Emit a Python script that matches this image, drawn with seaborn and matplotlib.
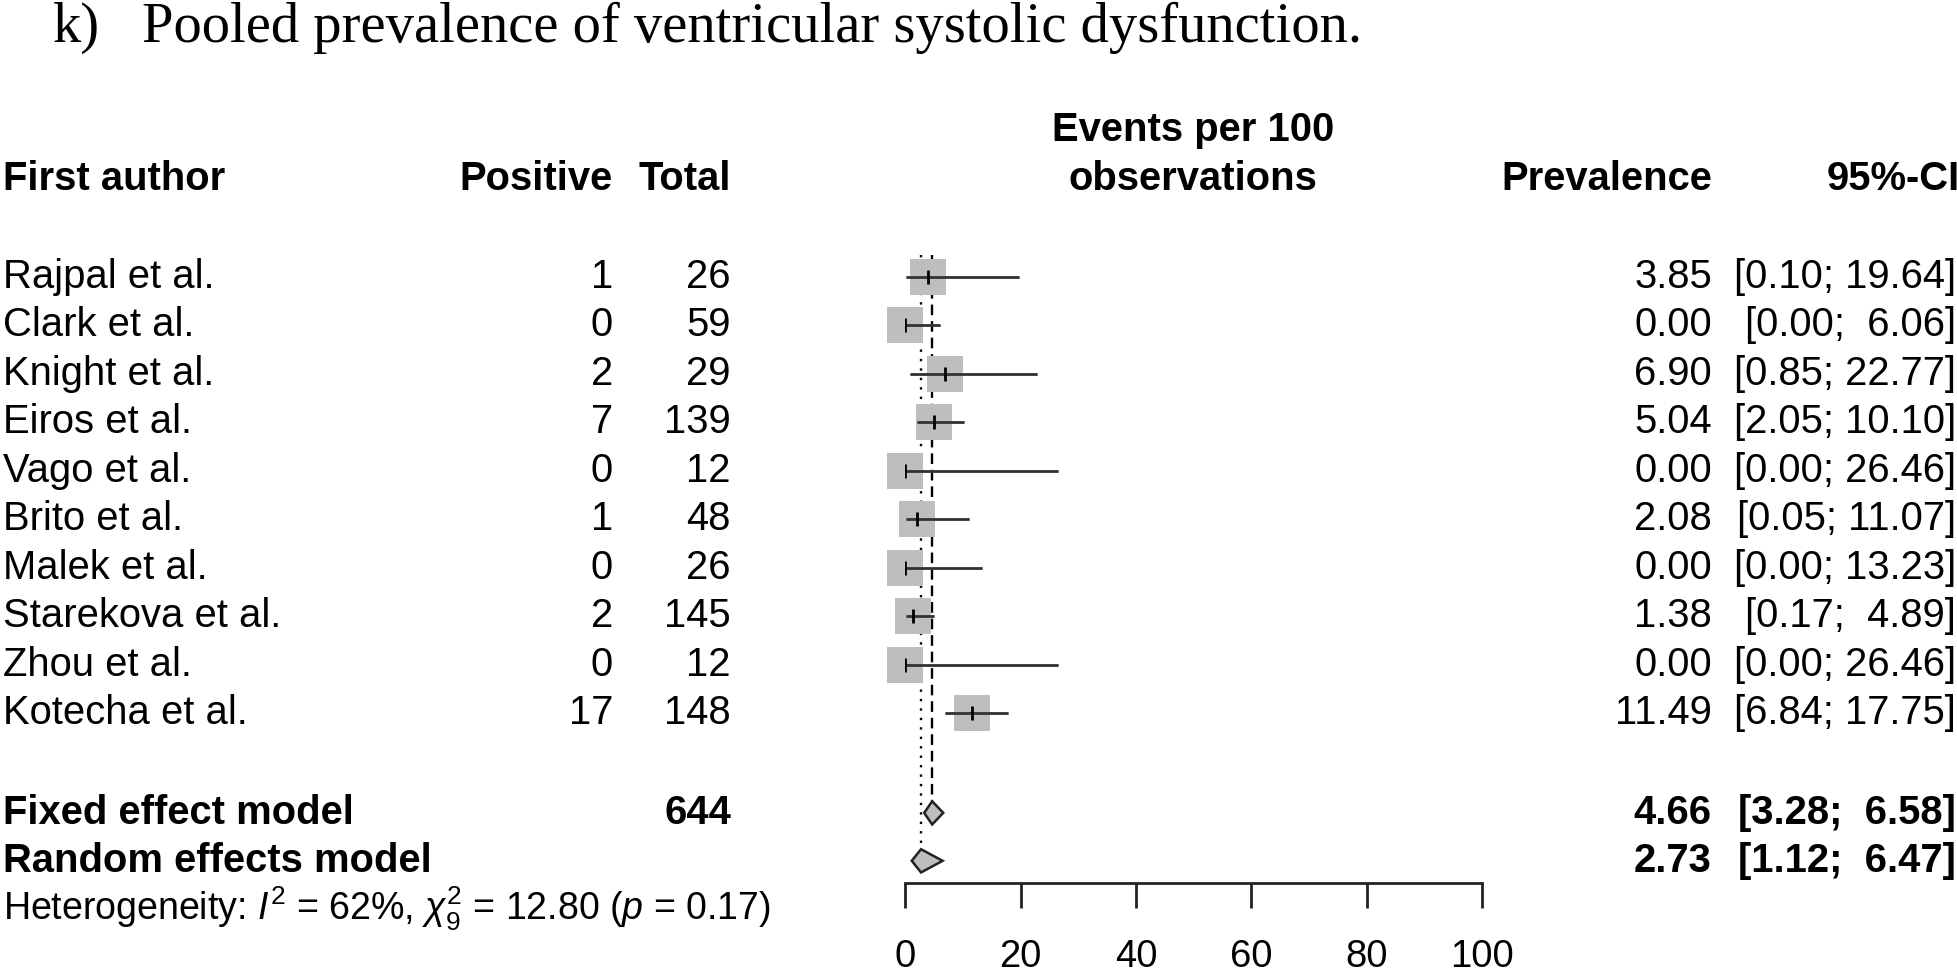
import numpy as np
import pandas as pd
import matplotlib
matplotlib.use('Agg')
import matplotlib.pyplot as plt
import matplotlib.transforms as mtransforms
import seaborn as sns

# study level data
authors = ['Rajpal et al.', 'Clark et al.', 'Knight et al.', 'Eiros et al.', 'Vago et al.',
           'Brito et al.', 'Malek et al.', 'Starekova et al.', 'Zhou et al.', 'Kotecha et al.']
positive = [1, 0, 2, 7, 0, 1, 0, 2, 0, 17]
total = [26, 59, 29, 139, 12, 48, 26, 145, 12, 148]
prevalence = [3.85, 0.00, 6.90, 5.04, 0.00, 2.08, 0.00, 1.38, 0.00, 11.49]
ci_lower = [0.10, 0.00, 0.85, 2.05, 0.00, 0.05, 0.00, 0.17, 0.00, 6.84]
ci_upper = [19.64, 6.06, 22.77, 10.10, 26.46, 11.07, 13.23, 4.89, 26.46, 17.75]

# pooled estimates
model_names = ['Fixed effect model', 'Random effects model']
model_est = [4.66, 2.73]
model_lower = [3.28, 1.12]
model_upper = [6.58, 6.47]
total_n = 644
i2, q_stat, q_df, q_p = 62, 12.80, 9, 0.17

x_ticks = [0, 20, 40, 60, 80, 100]

sns.set_style('white')
plt.rcParams['font.family'] = ['Liberation Sans', 'DejaVu Sans']
plt.rcParams['text.color'] = 'black'
plt.rcParams['xtick.color'] = 'black'
plt.rcParams['mathtext.fontset'] = 'custom'
plt.rcParams['mathtext.rm'] = 'Liberation Sans'
plt.rcParams['mathtext.it'] = 'Liberation Sans:italic'
plt.rcParams['mathtext.bf'] = 'Liberation Sans:bold'

W, H = 1958, 974
fs = 28.8
fig = plt.figure(figsize=(W / 100, H / 100), dpi=100)
x0, x1 = 905.3, 1482.0
ax = fig.add_axes([x0 / W, 0, (x1 - x0) / W, 1])
ax.set_xlim(0, 100)
row_top, row_step = 277, 48.45
ax.set_ylim((H - row_top) / row_step, -row_top / row_step)

df = pd.DataFrame({'author': authors, 'prev': prevalence, 'lo': ci_lower, 'hi': ci_upper,
                   'row': np.arange(len(authors))})
y_fixed, y_random, y_het, y_axis = 11.06, 12.05, 13.04, 12.51

# confidence intervals
ax.hlines(df['row'], df['lo'], df['hi'], color='#555555', lw=1.8, zorder=3)
# weight squares
sns.scatterplot(data=df, x='prev', y='row', marker='s', s=660, color='#bebebe',
                linewidth=0, ax=ax, zorder=2, clip_on=False, legend=False)
ax.hlines(df['row'], df['lo'], df['hi'], color='#333333', lw=1.8, zorder=4)
ax.plot(df['prev'], df['row'], ls='none', marker='|', ms=10, mew=2.0, color='black', zorder=5)

# pooled lines
ax.vlines(model_est[0], -0.45, y_fixed - 0.24, colors='black', linestyles=(0, (4.5, 2.5)), lw=1.7, zorder=1)
ax.vlines(model_est[1], -0.45, y_random - 0.25, colors='black', linestyles=(0, (1, 3)), lw=1.7, zorder=1)

# diamonds
for est, lo, hi, yy in zip(model_est, model_lower, model_upper, [y_fixed, y_random]):
    ax.fill([lo, est, hi, est], [yy, yy - 0.24, yy, yy + 0.24], facecolor='#bebebe',
            edgecolor='#222222', lw=1.8, zorder=4, clip_on=False)

# x axis
for side in ['top', 'left', 'right']:
    ax.spines[side].set_visible(False)
ax.spines['bottom'].set_position(('data', y_axis))
ax.spines['bottom'].set_bounds(0, 100)
ax.spines['bottom'].set_linewidth(2.0)
ax.spines['bottom'].set_color('#222222')
ax.set_xticks(x_ticks)
ax.set_xticklabels([str(t) for t in x_ticks])
ax.tick_params(axis='x', bottom=True, direction='out', length=18, width=2.0, color='#222222',
               pad=22, labelsize=27.5)
ax.set_yticks([])
ax.set_xlabel('')
ax.set_ylabel('')
ax.patch.set_alpha(0)

trans = mtransforms.blended_transform_factory(fig.transFigure, ax.transData)


def put(xpx, y, s, ha='left', bold=False, **kw):
    ax.text(xpx / W, y, s, transform=trans, ha=ha, va='center', fontsize=kw.pop('size', fs),
            fontweight='bold' if bold else 'normal', clip_on=False, **kw)


# title
ax.text(53 / W, -4.85, 'k)', transform=trans, ha='left', va='baseline',
        family='Liberation Serif', fontsize=40.8)
ax.text(142 / W, -4.85, 'Pooled prevalence of ventricular systolic dysfunction.', transform=trans,
        ha='left', va='baseline', family='Liberation Serif', fontsize=40.8)

# headers
y_head = -2.02
put(3, y_head, 'First author', bold=True)
put(613, y_head, 'Positive', ha='right', bold=True)
put(731, y_head, 'Total', ha='right', bold=True)
put(1193, -3.03, 'Events per 100', ha='center', bold=True)
put(1193, y_head, 'observations', ha='center', bold=True)
put(1712, y_head, 'Prevalence', ha='right', bold=True)
put(1960, y_head, '95%-CI', ha='right', bold=True)

# study rows
for i, a in enumerate(authors):
    put(3, i, a)
    put(613, i, str(positive[i]), ha='right')
    put(731, i, str(total[i]), ha='right')
    put(1712, i, f'{prevalence[i]:.2f}', ha='right')
    put(1956, i, f'[{ci_lower[i]:.2f}; {ci_upper[i]:5.2f}]', ha='right')

# model rows
for name, est, lo, hi, yy in zip(model_names, model_est, model_lower, model_upper, [y_fixed, y_random]):
    put(3, yy, name, bold=True)
    put(1712, yy, f'{est:.2f}', ha='right', bold=True)
    put(1956, yy, f'[{lo:.2f}; {hi:5.2f}]', ha='right', bold=True)
put(731, y_fixed, str(total_n), ha='right', bold=True)

put(3, y_het, f'Heterogeneity: $I^2$ = {i2}%, $\\chi^2_{{{q_df}}}$ = {q_stat:.2f} ($p$ = {q_p:.2f})',
    size=27)

fig.savefig('out.png', dpi=100)
